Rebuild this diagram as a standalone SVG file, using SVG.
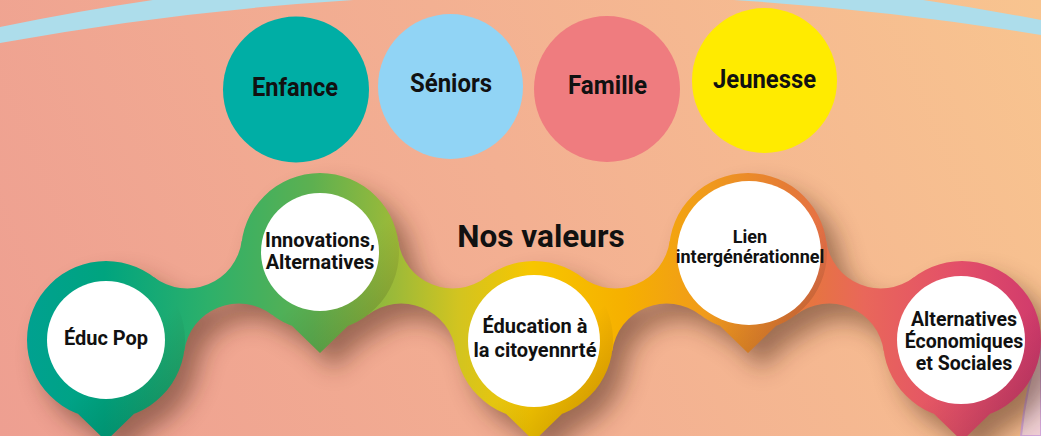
<svg xmlns="http://www.w3.org/2000/svg" xmlns:xlink="http://www.w3.org/1999/xlink" width="1041" height="436" viewBox="0 0 1041 436">
  <defs>
    <linearGradient id="bg" gradientUnits="userSpaceOnUse" x1="0" y1="436" x2="1041" y2="0">
      <stop offset="0" stop-color="#EE9F91"/>
      <stop offset="0.5" stop-color="#F3B092"/>
      <stop offset="1" stop-color="#F8C48F"/>
    </linearGradient>
    <linearGradient id="chainGrad" gradientUnits="userSpaceOnUse" x1="0" y1="0" x2="1041" y2="0">
      <stop offset="0" stop-color="#00A096"/>
      <stop offset="0.1" stop-color="#00A47F"/>
      <stop offset="0.2" stop-color="#2DB06A"/>
      <stop offset="0.3" stop-color="#5DB050"/>
      <stop offset="0.38" stop-color="#9DBA38"/>
      <stop offset="0.44" stop-color="#D2C420"/>
      <stop offset="0.51" stop-color="#F7C600"/>
      <stop offset="0.6" stop-color="#F6B000"/>
      <stop offset="0.68" stop-color="#F09A1C"/>
      <stop offset="0.76" stop-color="#E57A36"/>
      <stop offset="0.83" stop-color="#E9675A"/>
      <stop offset="0.92" stop-color="#E34F69"/>
      <stop offset="1" stop-color="#D03A6C"/>
    </linearGradient>
    <linearGradient id="shade" x1="0.2" y1="0.1" x2="0.9" y2="1">
      <stop offset="0" stop-color="#000" stop-opacity="0"/>
      <stop offset="0.5" stop-color="#000" stop-opacity="0"/>
      <stop offset="1" stop-color="#000" stop-opacity="0.2"/>
    </linearGradient>
    <filter id="blur" x="-30%" y="-30%" width="160%" height="160%">
      <feGaussianBlur stdDeviation="12"/>
    </filter>
    <path id="neckA" d="M153.92,277.2 A55,55 0 0 0 241.76,241.08 L320,252 L272.08,314.8 A55,55 0 0 0 184.24,350.92 L106,340 Z"/>
    <path id="neckB" d="M398.24,241.08 A55,55 0 0 0 486.08,277.2 L534,340 L455.76,350.92 A55,55 0 0 0 367.92,314.8 L320,252 Z"/>
    <path id="neckC" d="M581.92,277.2 A55,55 0 0 0 669.76,241.08 L748,252 L700.08,314.8 A55,55 0 0 0 612.24,350.92 L534,340 Z"/>
    <path id="neckD" d="M826.24,241.08 A55,55 0 0 0 914.08,277.2 L962,340 L883.76,350.92 A55,55 0 0 0 795.92,314.8 L748,252 Z"/>
    <path id="pin1" d="M27,340 A79,79 0 1 1 185,340 A79,79 0 1 1 27,340 Z M138,410 L106,441 L74,410 Z"/>
    <path id="pin2" d="M241,252 A79,79 0 1 1 399,252 A79,79 0 1 1 241,252 Z M352,322 L320,353 L288,322 Z"/>
    <path id="pin3" d="M455,340 A79,79 0 1 1 613,340 A79,79 0 1 1 455,340 Z M566,410 L534,441 L502,410 Z"/>
    <path id="pin4" d="M669,252 A79,79 0 1 1 827,252 A79,79 0 1 1 669,252 Z M780,322 L748,353 L716,322 Z"/>
    <path id="pin5" d="M883,340 A79,79 0 1 1 1041,340 A79,79 0 1 1 883,340 Z M994,410 L962,441 L930,410 Z"/>
  </defs>
  <style>
    .chain { fill: url(#chainGrad); }
    .shade { fill: url(#shade); }
    .white { fill: #FFFFFF; }
    .lbl { font-family: Roboto, "Liberation Sans", sans-serif; font-weight: 700; fill: #111111; text-anchor: middle; }
    .top { font-size: 26px; }
    .pin { font-size: 20px; }
  </style>

  <!-- background -->
  <rect x="0" y="0" width="1041" height="436" fill="url(#bg)"/>
  <path d="M0,27 A2656.7,2656.7 0 0 1 1041,20 L1041,35 A3044,3044 0 0 0 0,43 Z" fill="#ADDDEB"/>
  <path d="M1041,345 Q1026,385 1021,436 L1041,436 Z" fill="#F0D0D6" stroke="#D3A7D9" stroke-width="2"/>

  <!-- top category circles -->
  <g id="enfance">
    <circle cx="296" cy="89.5" r="73" fill="#00AEA5"/>
    <text class="lbl top" x="295" y="96" textLength="86" lengthAdjust="spacingAndGlyphs">Enfance</text>
  </g>
  <g id="seniors">
    <circle cx="450.5" cy="86.5" r="72.5" fill="#91D4F5"/>
    <text class="lbl top" x="451" y="92" textLength="82" lengthAdjust="spacingAndGlyphs">Séniors</text>
  </g>
  <g id="famille">
    <circle cx="607" cy="89" r="73" fill="#EF7C7F"/>
    <text class="lbl top" x="607.5" y="94" textLength="79" lengthAdjust="spacingAndGlyphs">Famille</text>
  </g>
  <g id="jeunesse">
    <circle cx="764.5" cy="80.5" r="72.5" fill="#FFEB00"/>
    <text class="lbl top" x="764.5" y="88" textLength="103" lengthAdjust="spacingAndGlyphs">Jeunesse</text>
  </g>

  <g id="title">
    <text class="lbl" x="541" y="247" font-size="31.5">Nos valeurs</text>
  </g>

  <!-- shadow of the chain -->
  <g id="chain-shadow" transform="translate(14,16)" fill="#4A2618" opacity="0.5" filter="url(#blur)">
    <use xlink:href="#neckA"/><use xlink:href="#neckB"/><use xlink:href="#neckC"/><use xlink:href="#neckD"/>
    <use xlink:href="#pin1"/><use xlink:href="#pin2"/><use xlink:href="#pin3"/><use xlink:href="#pin4"/><use xlink:href="#pin5"/>
  </g>

  <!-- connectors: the necks joining the value pins -->
  <g id="connectors">
    <use xlink:href="#neckA" class="chain"/>
    <use xlink:href="#neckB" class="chain"/>
    <use xlink:href="#neckC" class="chain"/>
    <use xlink:href="#neckD" class="chain"/>
  </g>

  <g id="educ-pop">
    <use xlink:href="#pin1" class="chain"/>
    <use xlink:href="#pin1" class="shade"/>
    <circle class="white" cx="106" cy="340" r="59"/>
    <text class="lbl pin" x="106" y="345">Éduc Pop</text>
  </g>
  <g id="innovations">
    <use xlink:href="#pin2" class="chain"/>
    <use xlink:href="#pin2" class="shade"/>
    <circle class="white" cx="320" cy="252" r="59"/>
    <text class="lbl pin" x="320" y="247">Innovations,</text>
    <text class="lbl pin" x="320" y="269">Alternatives</text>
  </g>
  <g id="education-citoyennete">
    <use xlink:href="#pin3" class="chain"/>
    <use xlink:href="#pin3" class="shade"/>
    <circle class="white" cx="534" cy="341" r="66"/>
    <text class="lbl pin" x="535" y="333">Éducation à</text>
    <text class="lbl pin" x="535" y="357">la citoyennrté</text>
  </g>
  <g id="lien-intergenerationnel">
    <use xlink:href="#pin4" class="chain"/>
    <use xlink:href="#pin4" class="shade"/>
    <circle class="white" cx="749" cy="253" r="72"/>
    <text class="lbl" font-size="18" x="750" y="243">Lien</text>
    <text class="lbl" font-size="18" x="750" y="263">intergénérationnel</text>
  </g>
  <g id="alternatives-eco">
    <use xlink:href="#pin5" class="chain"/>
    <use xlink:href="#pin5" class="shade"/>
    <circle class="white" cx="961" cy="340" r="64"/>
    <text class="lbl" font-size="19.5" x="964" y="326">Alternatives</text>
    <text class="lbl" font-size="19.5" x="964" y="348">Économiques</text>
    <text class="lbl" font-size="19.5" x="964" y="370">et Sociales</text>
  </g>
</svg>
